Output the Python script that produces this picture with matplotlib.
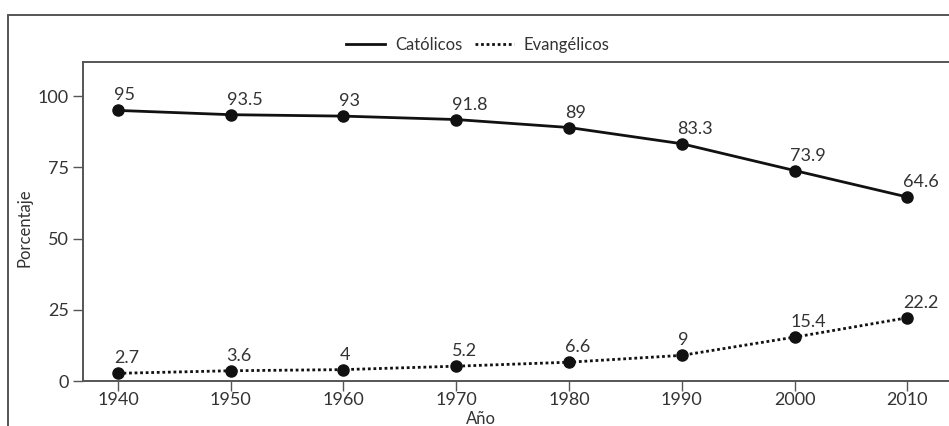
import matplotlib
matplotlib.use("Agg")
import matplotlib.pyplot as plt
from matplotlib.patches import Rectangle

years = [1940, 1950, 1960, 1970, 1980, 1990, 2000, 2010]
catolicos = [95, 93.5, 93, 91.8, 89, 83.3, 73.9, 64.6]
evangelicos = [2.7, 3.6, 4, 5.2, 6.6, 9, 15.4, 22.2]
cat_labels = ["95", "93.5", "93", "91.8", "89", "83.3", "73.9", "64.6"]
evg_labels = ["2.7", "3.6", "4", "5.2", "6.6", "9", "15.4", "22.2"]

plt.rcParams["font.family"] = ["Lato", "DejaVu Sans"]

fig = plt.figure(figsize=(9.49, 4.26), dpi=100)

# outer frame that runs off the right and bottom edges
fig.patches.append(Rectangle((8 / 949, -0.2), 2.0, 1.2 - 15 / 426,
                             transform=fig.transFigure, fill=False,
                             edgecolor="#555555", linewidth=1.4))

ax = fig.add_axes([83 / 949, 45 / 426, 1 - 83 / 949, 319 / 426])

ax.plot(years, catolicos, color="#111111", linewidth=2, marker="o",
        markersize=8, label="Católicos")
ax.plot(years, evangelicos, color="#111111", linewidth=2, linestyle=(0, (1, 1)),
        marker="o", markersize=8, label="Evangélicos")

for x, y, t in zip(years, catolicos, cat_labels):
    ax.annotate(t, (x, y), xytext=(-3, 5), textcoords="offset points",
                ha="left", va="bottom", fontsize=13, color="#333333")
for x, y, t in zip(years, evangelicos, evg_labels):
    ax.annotate(t, (x, y), xytext=(-3, 5), textcoords="offset points",
                ha="left", va="bottom", fontsize=13, color="#333333")

ax.set_xlim(1936.9, 2013.7)
ax.set_ylim(0, 112)
ax.set_xticks(years)
ax.set_yticks([0, 25, 50, 75, 100])
ax.tick_params(axis="both", direction="out", length=7, width=1, color="#555555",
               labelsize=13, labelcolor="#333333")
ax.tick_params(axis="x", pad=1)
ax.tick_params(axis="y", pad=3)
for s in ["left", "bottom", "top"]:
    ax.spines[s].set_color("#555555")
    ax.spines[s].set_linewidth(1.4)
ax.spines["right"].set_visible(False)

fig.text(481 / 949, 1 - 419 / 426, "Año", ha="center", va="center",
         fontsize=12, color="#333333")
fig.text(25 / 949, 1 - 228 / 426, "Porcentaje", ha="center", va="center",
         rotation=90, fontsize=12, color="#333333")

leg = fig.legend(loc="center", bbox_to_anchor=(478 / 949, 1 - 45 / 426), ncol=2,
                 frameon=False, fontsize=12, handlelength=2.3,
                 columnspacing=0.8, handletextpad=0.6)
for h in leg.legend_handles:
    h.set_marker("")
for t in leg.get_texts():
    t.set_color("#333333")

fig.savefig("out.png", dpi=100)
